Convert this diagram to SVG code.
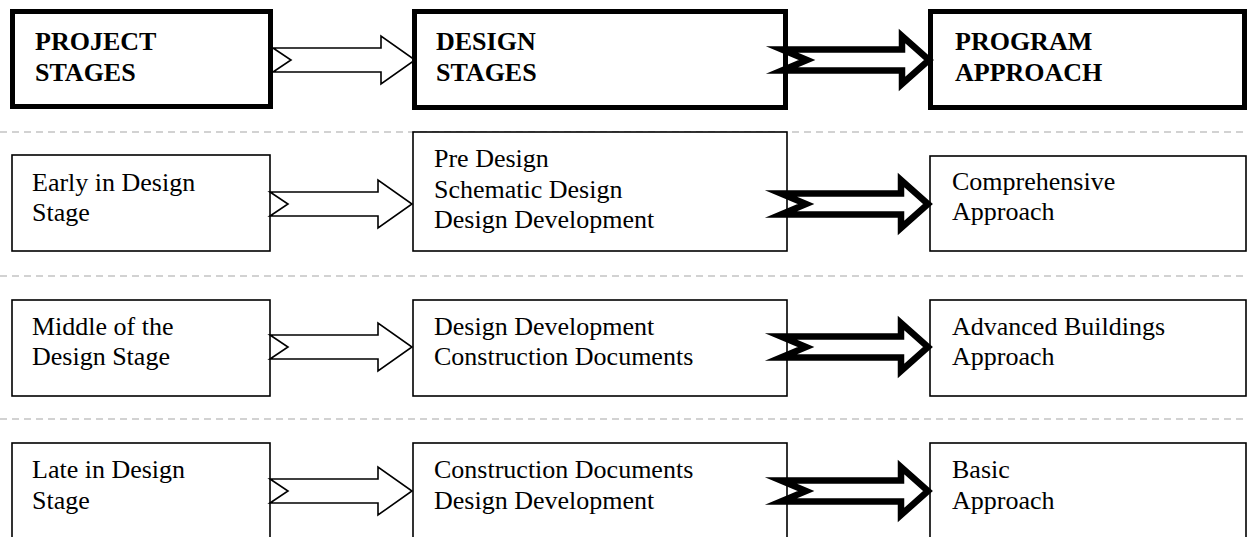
<svg xmlns="http://www.w3.org/2000/svg" width="1248" height="537" viewBox="0 0 1248 537">
  <style>
    .hdr { fill: #fff; stroke: #000; stroke-width: 5; }
    .box { fill: #fff; stroke: #000; stroke-width: 1.6; }
    .sep { stroke: #c4c4c4; stroke-width: 1.6; stroke-dasharray: 7 5; fill: none; }
    .thin { fill: none; stroke: #000; stroke-width: 1.6; stroke-linejoin: miter; }
    .thick { fill: none; stroke: #000; stroke-width: 6.5; stroke-linejoin: miter; stroke-miterlimit: 10; }
    text { font-family: "Liberation Serif", "Times New Roman", serif; font-size: 26px; fill: #000; }
    .b { font-weight: bold; }
  </style>
  <defs>
    <!-- notched block arrows, drawn around y = 0 -->
    <path id="arrowThin" d="M270,-12 L378,-12 L378,-24 L412,0 L378,24 L378,12 L270,12 L288,0 Z"/>
    <path id="arrowThick" d="M781,-10.5 L901,-10.5 L901,-24 L928,0 L901,24 L901,10.5 L781,10.5 L806,0 Z"/>
  </defs>
  <rect width="1248" height="537" fill="#fff"/>

  <!-- row separators -->
  <g id="separators">
    <line class="sep" x1="0" y1="132" x2="1248" y2="132"/>
    <line class="sep" x1="0" y1="276" x2="1248" y2="276"/>
    <line class="sep" x1="0" y1="419" x2="1248" y2="419"/>
  </g>

  <!-- header row -->
  <g id="hdr-project">
    <rect class="hdr" x="12.5" y="11.5" width="258" height="95"/>
    <text class="b" x="35" y="50">PROJECT</text>
    <text class="b" x="35" y="81">STAGES</text>
  </g>
  <g id="hdr-design">
    <rect class="hdr" x="414.5" y="11.5" width="371" height="96"/>
    <text class="b" x="436" y="50">DESIGN</text>
    <text class="b" x="436" y="81">STAGES</text>
  </g>
  <g id="hdr-program">
    <rect class="hdr" x="930.5" y="11.5" width="314" height="96"/>
    <text class="b" x="955" y="50">PROGRAM</text>
    <text class="b" x="955" y="81">APPROACH</text>
  </g>

  <!-- row 1 -->
  <g id="early">
    <rect class="box" x="12" y="155" width="258" height="96"/>
    <text x="32" y="191">Early in Design</text>
    <text x="32" y="221">Stage</text>
  </g>
  <g id="pre-design">
    <rect class="box" x="413" y="132" width="374" height="119"/>
    <text x="434" y="167">Pre Design</text>
    <text x="434" y="198">Schematic Design</text>
    <text x="434" y="228">Design Development</text>
  </g>
  <g id="comprehensive">
    <rect class="box" x="930" y="156" width="316" height="95"/>
    <text x="952" y="190">Comprehensive</text>
    <text x="952" y="220">Approach</text>
  </g>

  <!-- row 2 -->
  <g id="middle">
    <rect class="box" x="12" y="300" width="258" height="96"/>
    <text x="32" y="335">Middle of the</text>
    <text x="32" y="365">Design Stage</text>
  </g>
  <g id="dd-cd">
    <rect class="box" x="413" y="300" width="374" height="96"/>
    <text x="434" y="335">Design Development</text>
    <text x="434" y="365">Construction Documents</text>
  </g>
  <g id="advanced">
    <rect class="box" x="930" y="300" width="316" height="96"/>
    <text x="952" y="335">Advanced Buildings</text>
    <text x="952" y="365">Approach</text>
  </g>

  <!-- row 3 -->
  <g id="late">
    <rect class="box" x="12" y="443" width="258" height="110"/>
    <text x="32" y="478">Late in Design</text>
    <text x="32" y="509">Stage</text>
  </g>
  <g id="cd-dd">
    <rect class="box" x="413" y="443" width="374" height="110"/>
    <text x="434" y="478">Construction Documents</text>
    <text x="434" y="509">Design Development</text>
  </g>
  <g id="basic">
    <rect class="box" x="930" y="443" width="316" height="110"/>
    <text x="952" y="478">Basic</text>
    <text x="952" y="509">Approach</text>
  </g>

  <!-- connectors -->
  <g id="connectors">
    <use href="#arrowThin" class="thin" transform="translate(3,60)"/>
    <use href="#arrowThick" class="thick" transform="translate(1,60)"/>
    <use href="#arrowThin" class="thin" transform="translate(0,204)"/>
    <use href="#arrowThick" class="thick" transform="translate(0,204)"/>
    <use href="#arrowThin" class="thin" transform="translate(0,347)"/>
    <use href="#arrowThick" class="thick" transform="translate(0,347)"/>
    <use href="#arrowThin" class="thin" transform="translate(0,491)"/>
    <use href="#arrowThick" class="thick" transform="translate(0,491)"/>
  </g>
</svg>
